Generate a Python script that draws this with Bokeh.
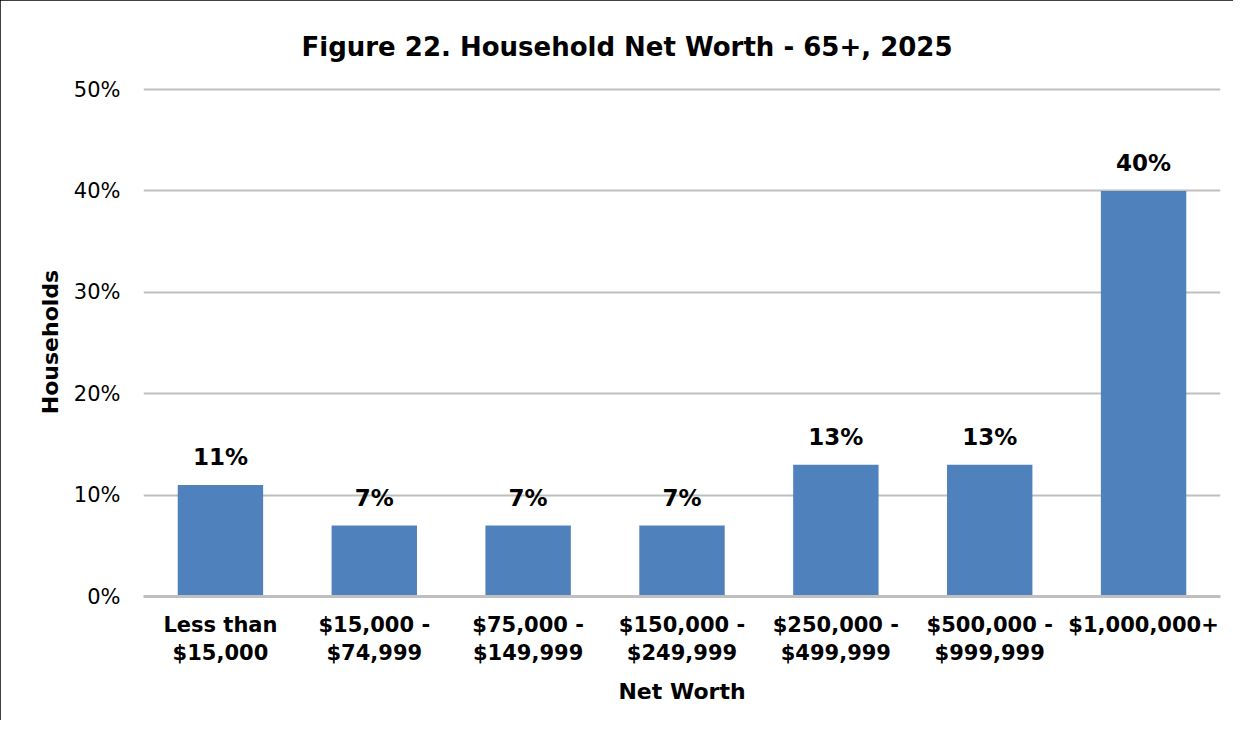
from bokeh.plotting import figure
from bokeh.models import FactorRange, Range1d, FixedTicker, ColumnDataSource
from bokeh.core.properties import value
from bokeh.embed import file_html
from bokeh.resources import INLINE

categories = ["Less than\n$15,000", "$15,000 -\n$74,999", "$75,000 -\n$149,999",
              "$150,000 -\n$249,999", "$250,000 -\n$499,999", "$500,000 -\n$999,999",
              "$1,000,000+"]
shares = [11, 7, 7, 7, 13, 13, 40]
share_labels = ["11%", "7%", "7%", "7%", "13%", "13%", "40%"]
y_ticks = [0, 10, 20, 30, 40, 50]
y_tick_labels = ["0%", "10%", "20%", "30%", "40%", "50%"]

FONT = "DejaVu Sans"

src = ColumnDataSource(dict(cat=categories, val=shares, lab=share_labels))

p = figure(width=1233, height=720, x_range=FactorRange(*categories),
           y_range=Range1d(0, 50.2), output_backend="svg", toolbar_location=None,
           min_border_left=143, min_border_right=13, min_border_top=87, min_border_bottom=124)

p.title.text = "Figure 22. Household Net Worth - 65+, 2025"
p.title.align = "left"
p.title.text_font = FONT
p.title.text_font_size = "26px"
p.title.text_font_style = "bold"
p.title.text_color = "black"
p.title.offset = 158
p.title.standoff = 52

p.vbar(x="cat", top="val", width=0.555, source=src, fill_color="#4F81BD", line_color=None)
p.text(x="cat", y="val", text="lab", source=src, text_align="center", text_baseline="alphabetic",
       y_offset=-28, text_font=value(FONT), text_font_size="23px", text_font_style="bold",
       text_color="black")

p.yaxis.ticker = FixedTicker(ticks=y_ticks)
p.yaxis.major_label_overrides = {t: l for t, l in zip(y_ticks, y_tick_labels)}
p.yaxis.axis_line_color = None
p.yaxis.major_tick_line_color = None
p.yaxis.minor_tick_line_color = None
p.yaxis.major_label_text_font = FONT
p.yaxis.major_label_text_font_size = "21px"
p.yaxis.major_label_text_color = "black"
p.yaxis.major_label_standoff = 17
p.yaxis.axis_label = "Households"
p.yaxis.axis_label_text_font = FONT
p.yaxis.axis_label_text_font_size = "22px"
p.yaxis.axis_label_text_font_style = "bold"
p.yaxis.axis_label_text_color = "black"
p.yaxis.axis_label_standoff = 8

p.xaxis.axis_line_color = "#BFBFBF"
p.xaxis.axis_line_width = 3
p.xaxis.major_tick_line_color = None
p.xaxis.minor_tick_line_color = None
p.xaxis.major_label_text_font = FONT
p.xaxis.major_label_text_font_size = "21px"
p.xaxis.major_label_text_font_style = "bold"
p.xaxis.major_label_text_color = "black"
p.xaxis.major_label_standoff = 10
p.xaxis.axis_label = "Net Worth"
p.xaxis.axis_label_text_font = FONT
p.xaxis.axis_label_text_font_size = "22px"
p.xaxis.axis_label_text_font_style = "bold"
p.xaxis.axis_label_text_color = "black"
p.xaxis.axis_label_standoff = 11

p.xgrid.grid_line_color = None
p.ygrid.grid_line_color = "#BFBFBF"
p.ygrid.grid_line_width = 2
p.outline_line_color = None
p.x_range.range_padding = 0

p.styles = {"outline": "2px solid black", "outline-offset": "-2px"}

open("out.html", "w").write(file_html(p, INLINE))
